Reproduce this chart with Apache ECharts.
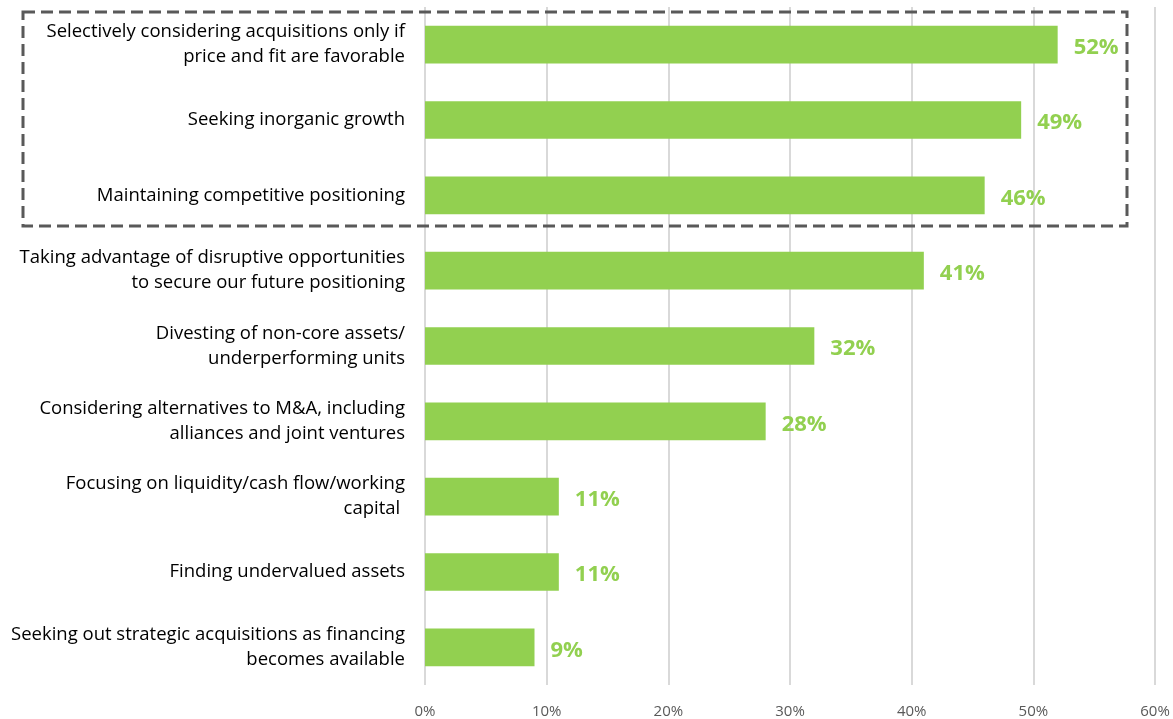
<!DOCTYPE html>
<html>
<head>
<meta charset="utf-8">
<script src="https://cdn.jsdelivr.net/npm/echarts@6/dist/echarts.min.js"></script>
<style>
  html, body { margin: 0; padding: 0; background: #fff; }
  #chart { width: 1173px; height: 719px; }
</style>
</head>
<body>
<div id="chart"></div>
<script>
// Survey responses: M&A strategy priorities (share of respondents)
const categories = [
  'Selectively considering acquisitions only if\nprice and fit are favorable',
  'Seeking inorganic growth',
  'Maintaining competitive positioning',
  'Taking advantage of disruptive opportunities\nto secure our future positioning',
  'Divesting of non-core assets/\nunderperforming units',
  'Considering alternatives to M&A, including\nalliances and joint ventures',
  'Focusing on liquidity/cash flow/working\ncapital ',
  'Finding undervalued assets',
  'Seeking out strategic acquisitions as financing\nbecomes available'
];
const shares = [52, 49, 46, 41, 32, 28, 11, 11, 9];
const xTicks = [0, 10, 20, 30, 40, 50, 60];

const chart = echarts.init(document.getElementById('chart'));

const font = 'Open Sans, "Noto Sans", sans-serif';

chart.setOption({
  animation: false,
  grid: { left: 425, right: 18, top: 7, bottom: 34, containLabel: false },
  xAxis: {
    type: 'value',
    min: xTicks[0],
    max: xTicks[xTicks.length - 1],
    interval: 10,
    axisLine: { show: false },
    axisTick: { show: false },
    axisLabel: {
      formatter: v => v + '%',
      color: '#595959',
      fontSize: 15,
      fontFamily: font,
      margin: 19
    },
    splitLine: { show: true, lineStyle: { color: '#d9d9d9', width: 2 } }
  },
  yAxis: {
    type: 'category',
    inverse: true,
    data: categories,
    axisLine: { show: false },
    axisTick: { show: false },
    axisLabel: {
      color: '#000',
      fontSize: 18.5,
      fontFamily: font,
      lineHeight: 25,
      margin: 20,
      align: 'right'
    }
  },
  series: [{
    type: 'bar',
    data: shares,
    barWidth: '50%',
    itemStyle: { color: '#92d050' },
    label: {
      show: true,
      position: 'right',
      distance: 16,
      offset: [0, 3],
      formatter: p => p.value + '%',
      color: '#92d050',
      fontSize: 22,
      fontWeight: 'bold',
      fontFamily: font
    }
  }],
  // dashed frame around the top three responses
  graphic: [{
    type: 'rect',
    shape: { x: 23, y: 12, width: 1104, height: 214 },
    style: {
      fill: 'none',
      stroke: '#595959',
      lineWidth: 3,
      lineDash: [12, 6]
    },
    z: 100
  }]
});
</script>
</body>
</html>
